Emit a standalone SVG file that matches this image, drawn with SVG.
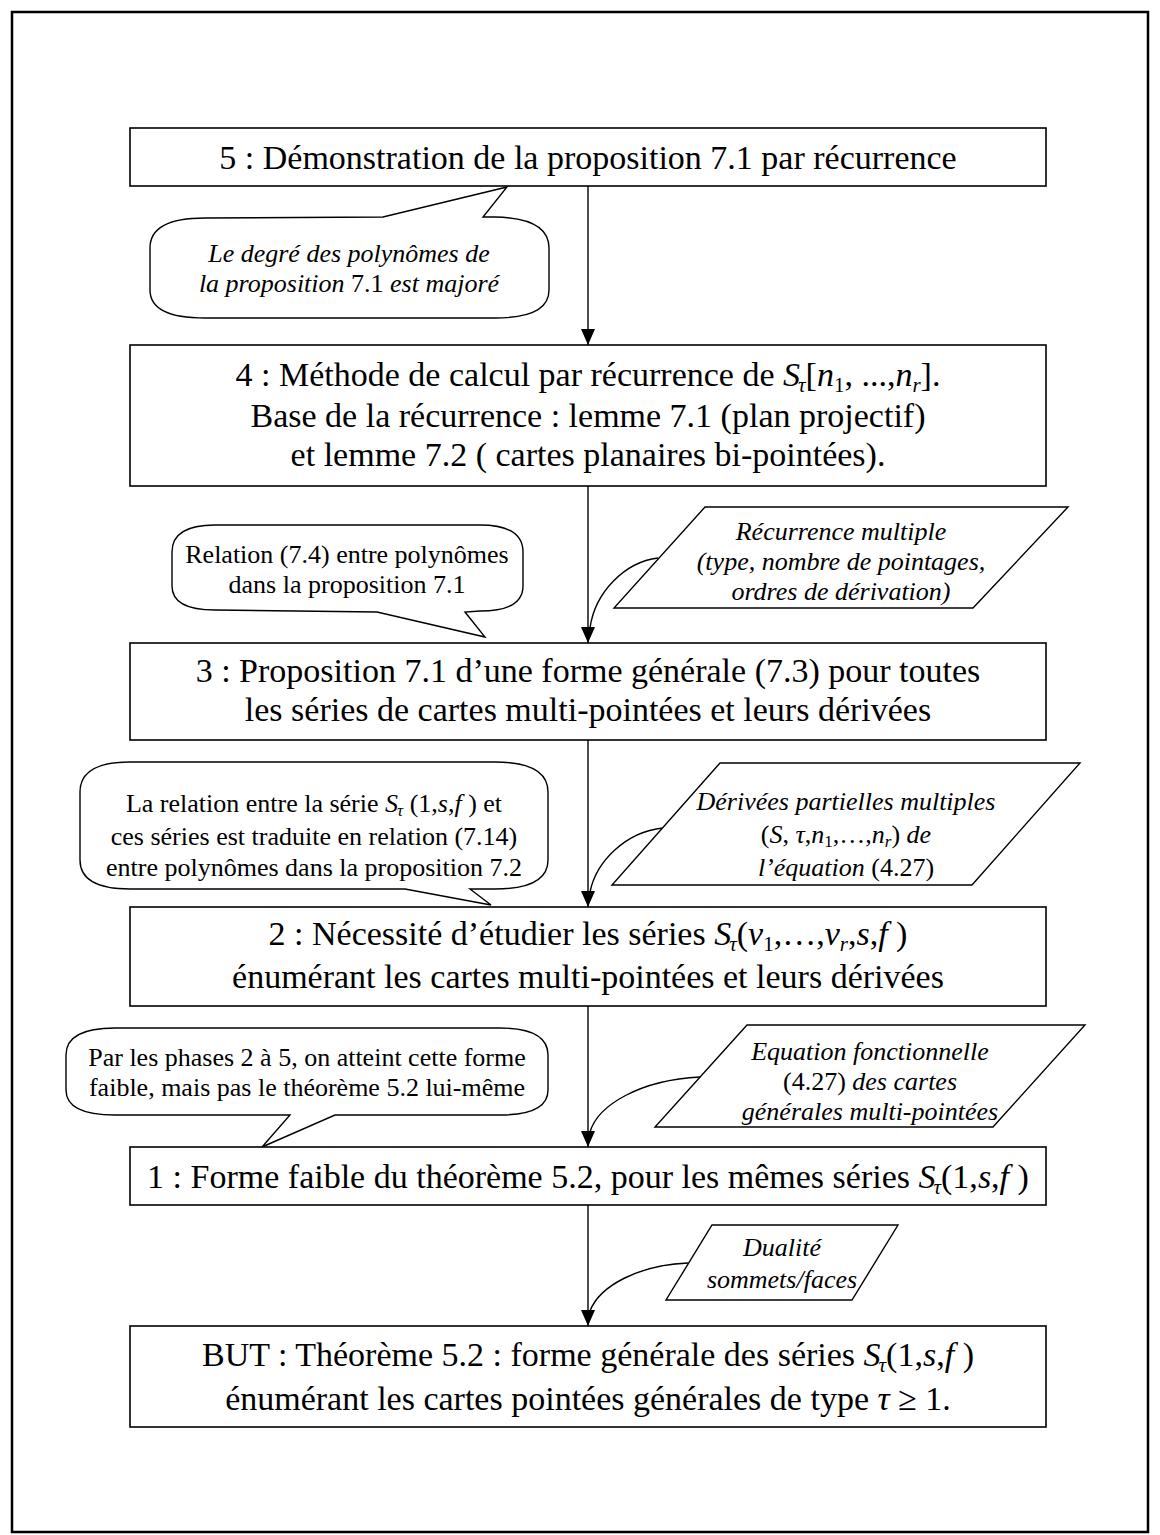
<svg xmlns="http://www.w3.org/2000/svg" width="1160" height="1535" viewBox="0 0 1160 1535">
<style>
.frame{fill:none;stroke:#000;stroke-width:2.5}
.box{fill:#fff;stroke:#000;stroke-width:1.6}
.call{fill:#fff;stroke:#000;stroke-width:1.4}
.conn{fill:none;stroke:#000;stroke-width:1.4}
.bt{font-family:"Liberation Serif","Times New Roman",serif;font-size:34px;text-anchor:middle;fill:#000}
.at{font-family:"Liberation Serif","Times New Roman",serif;font-size:26px;text-anchor:middle;fill:#000}
.i{font-style:italic}
.n{font-style:normal}
.sb{font-size:21px}
.sa{font-size:17px}
</style>
<defs>
<marker id="ah" viewBox="0 0 16 14" refX="16" refY="7" markerWidth="16" markerHeight="14" markerUnits="userSpaceOnUse" orient="auto"><path d="M0,0 L16,7 L0,14 Z" fill="#000"/></marker>
</defs>
<rect class="frame" x="12" y="12" width="1136" height="1520"/>

<g id="connectors">
<line class="conn" x1="588" y1="186" x2="588" y2="345" marker-end="url(#ah)"/>
<line class="conn" x1="588" y1="486" x2="588" y2="643" marker-end="url(#ah)"/>
<line class="conn" x1="588" y1="740" x2="588" y2="907" marker-end="url(#ah)"/>
<line class="conn" x1="588" y1="1006" x2="588" y2="1147" marker-end="url(#ah)"/>
<line class="conn" x1="588" y1="1205" x2="588" y2="1326" marker-end="url(#ah)"/>
<path class="conn" d="M658,558 C625,562 595,592 590,628"/>
<path class="conn" d="M663,828 C625,832 596,862 590,892"/>
<path class="conn" d="M700,1077 C640,1080 598,1105 590,1132"/>
<path class="conn" d="M688,1263 C640,1265 600,1285 590,1311"/>
</g>

<g id="box5">
<rect class="box" x="130" y="128" width="916" height="58"/>
<text class="bt" x="588" y="169">5 : Démonstration de la proposition 7.1 par récurrence</text>
</g>

<g id="note1">
<path class="call" d="M205,218 L383,217 L507,187 L483,217 L495,217 Q549,218 549,248 L549,290 Q549,318 495,318 L205,318 Q150,318 150,290 L150,248 Q150,218 205,218 Z"/>
<text class="at i" x="349" y="262">Le degré des polynômes de</text>
<text class="at i" x="349" y="292">la proposition <tspan class="n">7.1</tspan> est majoré</text>
</g>

<g id="box4">
<rect class="box" x="130" y="345" width="916" height="141"/>
<text class="bt" x="588" y="386">4 : Méthode de calcul par récurrence de <tspan class="i">S</tspan><tspan class="i sb" dx="-2" dy="6">τ</tspan><tspan dy="-6">[</tspan><tspan class="i">n</tspan><tspan class="sb" dy="6">1</tspan><tspan dy="-6">, ...,</tspan><tspan class="i">n</tspan><tspan class="i sb" dy="6">r</tspan><tspan dy="-6">].</tspan></text>
<text class="bt" x="588" y="427">Base de la récurrence : lemme 7.1 (plan projectif)</text>
<text class="bt" x="588" y="466">et lemme 7.2 ( cartes planaires bi-pointées).</text>
</g>

<g id="note2">
<path class="call" d="M215,525 L480,525 Q523,525 523,552 L523,586 Q523,611 480,611 L465,612 L485,637 L377,612 L215,610 Q172,610 172,586 L172,552 Q172,525 215,525 Z"/>
<text class="at" x="347" y="563">Relation (7.4) entre polynômes</text>
<text class="at" x="347" y="593">dans la proposition 7.1</text>
</g>

<g id="para1">
<path class="call" d="M705,507 L1068,507 L973,608 L614,608 Z"/>
<text class="at i" x="841" y="540">Récurrence multiple</text>
<text class="at i" x="841" y="570">(type, nombre de pointages,</text>
<text class="at i" x="841" y="600">ordres de dérivation)</text>
</g>

<g id="box3">
<rect class="box" x="130" y="643" width="916" height="97"/>
<text class="bt" x="588" y="682">3 : Proposition 7.1 d’une forme générale (7.3) pour toutes</text>
<text class="bt" x="588" y="721">les séries de cartes multi-pointées et leurs dérivées</text>
</g>

<g id="note3">
<path class="call" d="M130,762 L495,762 Q548,762 548,792 L548,860 Q548,889 495,889 L470,889 L491,905 L405,889 L130,889 Q80,889 80,860 L80,792 Q80,762 130,762 Z"/>
<text class="at" x="314" y="812">La relation entre  la série <tspan class="i">S</tspan><tspan class="i sa" dx="-1" dy="4">τ</tspan><tspan dy="-4"> (1,</tspan><tspan class="i">s</tspan>,<tspan class="i">f</tspan> ) et</text>
<text class="at" x="314" y="845">ces séries est traduite en relation (7.14)</text>
<text class="at" x="314" y="876">entre polynômes dans la proposition 7.2</text>
</g>

<g id="para2">
<path class="call" d="M720,763 L1080,763 L972,885 L612,885 Z"/>
<text class="at i" x="846" y="810">Dérivées partielles multiples</text>
<text class="at" x="846" y="843">(<tspan class="i">S</tspan>, <tspan class="i">τ</tspan>,<tspan class="i">n</tspan><tspan class="sa" dy="4">1</tspan><tspan dy="-4">,…,</tspan><tspan class="i">n</tspan><tspan class="i sa" dy="4">r</tspan><tspan dy="-4">) </tspan><tspan class="i">de</tspan></text>
<text class="at" x="846" y="876"><tspan class="i">l’équation</tspan> (4.27)</text>
</g>

<g id="box2">
<rect class="box" x="130" y="907" width="916" height="99"/>
<text class="bt" x="588" y="945">2 : Nécessité d’étudier les séries <tspan class="i">S</tspan><tspan class="i sb" dx="-2" dy="6">τ</tspan><tspan dy="-6">(</tspan><tspan class="i">v</tspan><tspan class="sb" dy="6">1</tspan><tspan dy="-6">,…,</tspan><tspan class="i">v</tspan><tspan class="i sb" dy="6">r</tspan><tspan dy="-6">,</tspan><tspan class="i">s</tspan>,<tspan class="i">f</tspan> )</text>
<text class="bt" x="588" y="988">énumérant les cartes multi-pointées et leurs dérivées</text>
</g>

<g id="note4">
<path class="call" d="M115,1028 L500,1028 Q548,1028 548,1055 L548,1090 Q548,1115 500,1115 L335,1115 L262,1147 L290,1115 L115,1115 Q66,1115 66,1090 L66,1055 Q66,1028 115,1028 Z"/>
<text class="at" x="307" y="1066">Par les phases 2 à 5, on atteint cette forme</text>
<text class="at" x="307" y="1096">faible, mais pas le théorème 5.2 lui-même</text>
</g>

<g id="para3">
<path class="call" d="M747,1025 L1085,1025 L993,1127 L655,1127 Z"/>
<text class="at i" x="870" y="1060">Equation fonctionnelle</text>
<text class="at" x="870" y="1090">(4.27) <tspan class="i">des cartes</tspan></text>
<text class="at i" x="870" y="1120">générales multi-pointées</text>
</g>

<g id="box1">
<rect class="box" x="130" y="1147" width="916" height="58"/>
<text class="bt" x="588" y="1188">1 : Forme faible du théorème 5.2, pour les mêmes séries <tspan class="i">S</tspan><tspan class="i sb" dx="-2" dy="6">τ</tspan><tspan dy="-6">(1,</tspan><tspan class="i">s</tspan>,<tspan class="i">f</tspan> )</text>
</g>

<g id="para4">
<path class="call" d="M712,1225 L898,1225 L852,1300 L666,1300 Z"/>
<text class="at i" x="782" y="1256">Dualité</text>
<text class="at i" x="782" y="1288">sommets/faces</text>
</g>

<g id="goal">
<rect class="box" x="130" y="1326" width="916" height="101"/>
<text class="bt" x="588" y="1366">BUT : Théorème 5.2 : forme générale des séries <tspan class="i">S</tspan><tspan class="i sb" dx="-2" dy="6">τ</tspan><tspan dy="-6">(1,</tspan><tspan class="i">s</tspan>,<tspan class="i">f</tspan> )</text>
<text class="bt" x="588" y="1410">énumérant les cartes pointées générales de type <tspan class="i">τ</tspan> ≥ 1.</text>
</g>
</svg>
